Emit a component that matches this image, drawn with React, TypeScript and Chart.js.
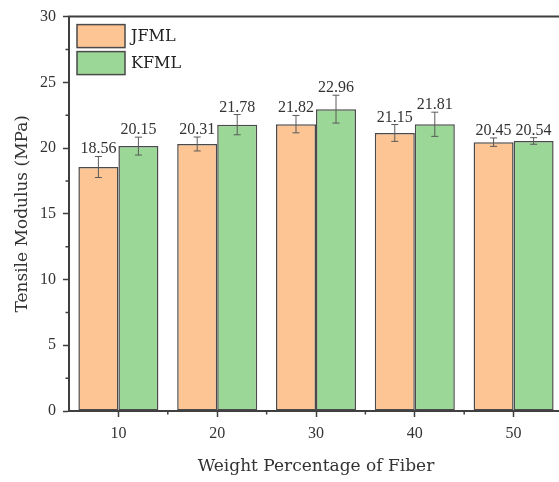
import React, { useEffect, useRef } from 'react';
import { Chart, registerables } from 'chart.js';

Chart.register(...registerables);

const categories = ['10', '20', '30', '40', '50'];
const jfmlValues = [18.56, 20.31, 21.82, 21.15, 20.45];
const jfmlErrors = [0.8, 0.53, 0.66, 0.64, 0.32];
const kfmlValues = [20.15, 21.78, 22.96, 21.81, 20.54];
const kfmlErrors = [0.68, 0.77, 1.06, 0.92, 0.25];
const yMinorTicks = [2.5, 7.5, 12.5, 17.5, 22.5, 27.5];

const errorsByDataset = [jfmlErrors, kfmlErrors];

const AXIS = '#3f3f3f';
const TEXT = '#333333';

const errorBarPlugin = {
  id: 'errorBars',
  afterDatasetsDraw(chart: any) {
    const ctx = chart.ctx;
    const y = chart.scales.y;
    ctx.save();
    chart.data.datasets.forEach((ds: any, di: number) => {
      const meta = chart.getDatasetMeta(di);
      const errs = errorsByDataset[di];
      meta.data.forEach((bar: any, i: number) => {
        const v = ds.data[i];
        const e = errs[i];
        const yTop = y.getPixelForValue(v + e);
        const yBot = y.getPixelForValue(v - e);
        const x = bar.x;
        ctx.strokeStyle = '#5a5a5a';
        ctx.lineWidth = 1;
        ctx.beginPath();
        ctx.moveTo(x, yTop);
        ctx.lineTo(x, yBot);
        ctx.moveTo(x - 3.5, yTop);
        ctx.lineTo(x + 3.5, yTop);
        ctx.moveTo(x - 3.5, yBot);
        ctx.lineTo(x + 3.5, yBot);
        ctx.stroke();
        ctx.fillStyle = TEXT;
        ctx.font = '16px "Liberation Serif"';
        ctx.textAlign = 'center';
        ctx.textBaseline = 'alphabetic';
        ctx.fillText(v.toFixed(2), x, yTop - 3);
      });
    });
    ctx.restore();
  },
};

const legendPlugin = {
  id: 'insideLegend',
  afterDraw(chart: any) {
    const ctx = chart.ctx;
    const ca = chart.chartArea;
    const boxW = 48;
    const boxH = 23;
    const gap = 4;
    ctx.save();
    chart.data.datasets.forEach((ds: any, i: number) => {
      const bx = ca.left + 8;
      const by = ca.top + 8 + i * (boxH + gap);
      ctx.fillStyle = ds.backgroundColor;
      ctx.fillRect(bx, by, boxW, boxH);
      ctx.strokeStyle = ds.borderColor;
      ctx.lineWidth = 1.5;
      ctx.strokeRect(bx, by, boxW, boxH);
      ctx.fillStyle = '#222222';
      ctx.font = '16px "DejaVu Serif"';
      ctx.textAlign = 'left';
      ctx.textBaseline = 'middle';
      ctx.fillText(ds.label, bx + boxW + 6, by + boxH / 2 + 1);
    });
    ctx.restore();
  },
};

const framePlugin = {
  id: 'frame',
  afterDraw(chart: any) {
    const ctx = chart.ctx;
    const ca = chart.chartArea;
    const xs = chart.scales.x;
    const ys = chart.scales.y;
    ctx.save();
    // keep the open right side of the plot clean
    ctx.fillStyle = '#ffffff';
    ctx.fillRect(ca.right - 8, ca.top + 1.5, 20, ca.bottom - ca.top - 3);
    ctx.strokeStyle = AXIS;
    ctx.lineWidth = 2;
    ctx.beginPath();
    ctx.moveTo(ca.left - 1, ca.top);
    ctx.lineTo(ca.right + 6, ca.top);
    ctx.stroke();
    ctx.lineWidth = 1.5;
    ctx.beginPath();
    yMinorTicks.forEach((v) => {
      const p = ys.getPixelForValue(v);
      ctx.moveTo(ca.left - 3.5, p);
      ctx.lineTo(ca.left, p);
    });
    for (let i = 0; i < categories.length - 1; i++) {
      const p = (xs.getPixelForValue(i) + xs.getPixelForValue(i + 1)) / 2;
      ctx.moveTo(p, ca.bottom);
      ctx.lineTo(p, ca.bottom + 3.5);
    }
    ctx.stroke();
    ctx.restore();
  },
};

export default function App() {
  const ref = useRef<HTMLCanvasElement | null>(null);

  useEffect(() => {
    if (!ref.current) return;
    const chart = new Chart(ref.current, {
      type: 'bar',
      data: {
        labels: categories,
        datasets: [
          {
            label: 'JFML',
            data: jfmlValues,
            backgroundColor: '#FDC494',
            borderColor: '#4a4a4a',
            borderWidth: 1.5,
            borderSkipped: false,
          },
          {
            label: 'KFML',
            data: kfmlValues,
            backgroundColor: '#9BD796',
            borderColor: '#4a4a4a',
            borderWidth: 1.5,
            borderSkipped: false,
          },
        ],
      },
      options: {
        animation: false,
        responsive: false,
        devicePixelRatio: 1,
        datasets: {
          bar: {
            categoryPercentage: 0.81,
            barPercentage: 1.0,
          },
        },
        layout: { padding: { top: 15, right: 38, left: 0, bottom: 0 } },
        plugins: {
          tooltip: { enabled: false },
          title: { display: false },
          legend: { display: false },
        },
        scales: {
          x: {
            type: 'category',
            offset: true,
            grid: {
              drawOnChartArea: false,
              offset: false,
              tickLength: 6,
              tickColor: AXIS,
              tickWidth: 1.5,
            },
            border: { display: true, color: AXIS, width: 2 },
            ticks: {
              color: TEXT,
              padding: 7,
              font: { family: 'Liberation Serif', size: 16 },
            },
            title: {
              display: true,
              text: 'Weight Percentage of Fiber',
              color: TEXT,
              font: { family: 'DejaVu Serif', size: 17 },
              padding: { top: 0, bottom: 5 },
            },
            afterFit: (s: any) => {
              s.height = 71;
            },
          },
          y: {
            min: 0,
            max: 30,
            grid: {
              drawOnChartArea: false,
              tickLength: 6,
              tickColor: AXIS,
              tickWidth: 1.5,
            },
            border: { display: true, color: AXIS, width: 2 },
            ticks: {
              stepSize: 5,
              color: TEXT,
              padding: 7,
              font: { family: 'Liberation Serif', size: 16 },
            },
            title: {
              display: true,
              text: 'Tensile Modulus (MPa)',
              color: TEXT,
              font: { family: 'DejaVu Serif', size: 17 },
              padding: { top: 12, bottom: 0 },
            },
            afterFit: (s: any) => {
              s.width = 69;
            },
          },
        },
      } as any,
      plugins: [errorBarPlugin, framePlugin, legendPlugin],
    });
    return () => chart.destroy();
  }, []);

  return (
    <div
      style={{
        position: 'absolute',
        left: 0,
        top: 0,
        width: 559,
        height: 482,
        overflow: 'hidden',
        background: '#ffffff',
      }}
    >
      <canvas ref={ref} width={601} height={482} style={{ display: 'block' }} />
    </div>
  );
}
